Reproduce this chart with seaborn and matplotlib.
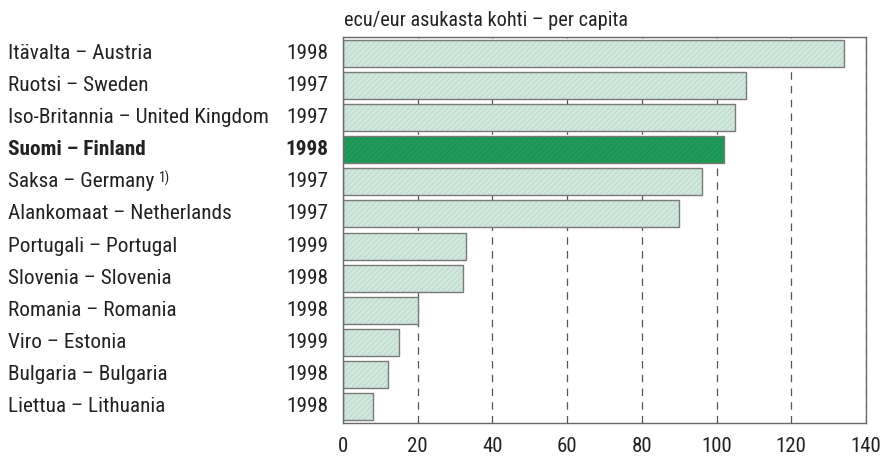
import matplotlib
matplotlib.use("Agg")
import matplotlib.pyplot as plt
import matplotlib.transforms as mtransforms
from matplotlib import font_manager
import seaborn as sns
import pandas as pd

countries = ["Itävalta – Austria", "Ruotsi – Sweden", "Iso-Britannia – United Kingdom",
             "Suomi – Finland", "Saksa – Germany", "Alankomaat – Netherlands",
             "Portugali – Portugal", "Slovenia – Slovenia", "Romania – Romania",
             "Viro – Estonia", "Bulgaria – Bulgaria", "Liettua – Lithuania"]
years = ["1998", "1997", "1997", "1998", "1997", "1997",
         "1999", "1998", "1998", "1999", "1998", "1998"]
values = [134, 108, 105, 102, 96, 90, 33, 32, 20, 15, 12, 8]
footnotes = ["", "", "", "", "1)", "", "", "", "", "", "", ""]
highlight = "Suomi – Finland"
title = "ecu/eur asukasta kohti – per capita"

sns.set_style("white")
available = {f.name for f in font_manager.fontManager.ttflist}
font = "DejaVu Sans"
for name in ["Liberation Sans Narrow", "DejaVu Sans Condensed", "Roboto Condensed", "Liberation Sans"]:
    if name in available:
        font = name
        break
plt.rcParams['font.family'] = [font, 'DejaVu Sans']
plt.rcParams['hatch.linewidth'] = 0.6

df = pd.DataFrame({"country": countries, "value": values})
fill_colors = {c: ("#1f9a57" if c == highlight else "#cfe7dc") for c in countries}

fig = plt.figure(figsize=(8.84, 4.58), dpi=100)
ax = fig.add_axes([343 / 884, 1 - 423 / 458, 523 / 884, 386 / 458])

# filled, lightly hatched bars
sns.barplot(data=df, x="value", y="country", hue="country", palette=fill_colors,
            legend=False, width=0.84, saturation=1, linewidth=0, ax=ax)
for p in ax.patches:
    fc = p.get_facecolor()
    p.set_edgecolor((fc[0] * 0.9, fc[1] * 0.93, fc[2] * 0.92, 1))
    p.set_linewidth(0)
    p.set_hatch("//////")
# outlines
sns.barplot(data=df, x="value", y="country", color="#7a7a7a", fill=False,
            width=0.84, saturation=1, linewidth=1.0, ax=ax)

ax.set_xlim(0, 140)
ax.set_ylim(11.5, -0.5)
ax.set_xticks(range(0, 141, 20))
ax.set_yticks([])
ax.set_xlabel("")
ax.set_ylabel("")
ax.xaxis.grid(True, linestyle=(0, (6, 5)), color="#555555", linewidth=0.9)
ax.yaxis.grid(False)
ax.set_axisbelow(True)
ax.tick_params(axis="x", length=7, width=1, color="#666666", labelsize=15, pad=3,
               labelcolor="#222222")
for s in ax.spines.values():
    s.set_visible(True)
    s.set_color("#6a6a6a")
    s.set_linewidth(1)

trans = mtransforms.blended_transform_factory(fig.transFigure, ax.transData)
label_texts = []
for i, (c, y) in enumerate(zip(countries, years)):
    w = "bold" if c == highlight else "normal"
    t = ax.text(8 / 884, i, c, transform=trans, ha="left", va="center",
                fontsize=15.3, fontweight=w, color="#222222")
    label_texts.append(t)
    ax.text(328 / 884, i, y, transform=trans, ha="right", va="center",
            fontsize=15.3, fontweight=w, color="#222222")

fig.text(344 / 884, 1 - 20 / 458, title, ha="left", va="center", fontsize=14.6,
         color="#222222")

fig.canvas.draw()
renderer = fig.canvas.get_renderer()
for t, note in zip(label_texts, footnotes):
    if note:
        bb = t.get_window_extent(renderer)
        fig.text((bb.x1 + 5) / 884, (bb.y1 + 2) / 458, note, ha="left", va="top",
                 fontsize=10, color="#222222")

fig.savefig("out.png", dpi=100)
